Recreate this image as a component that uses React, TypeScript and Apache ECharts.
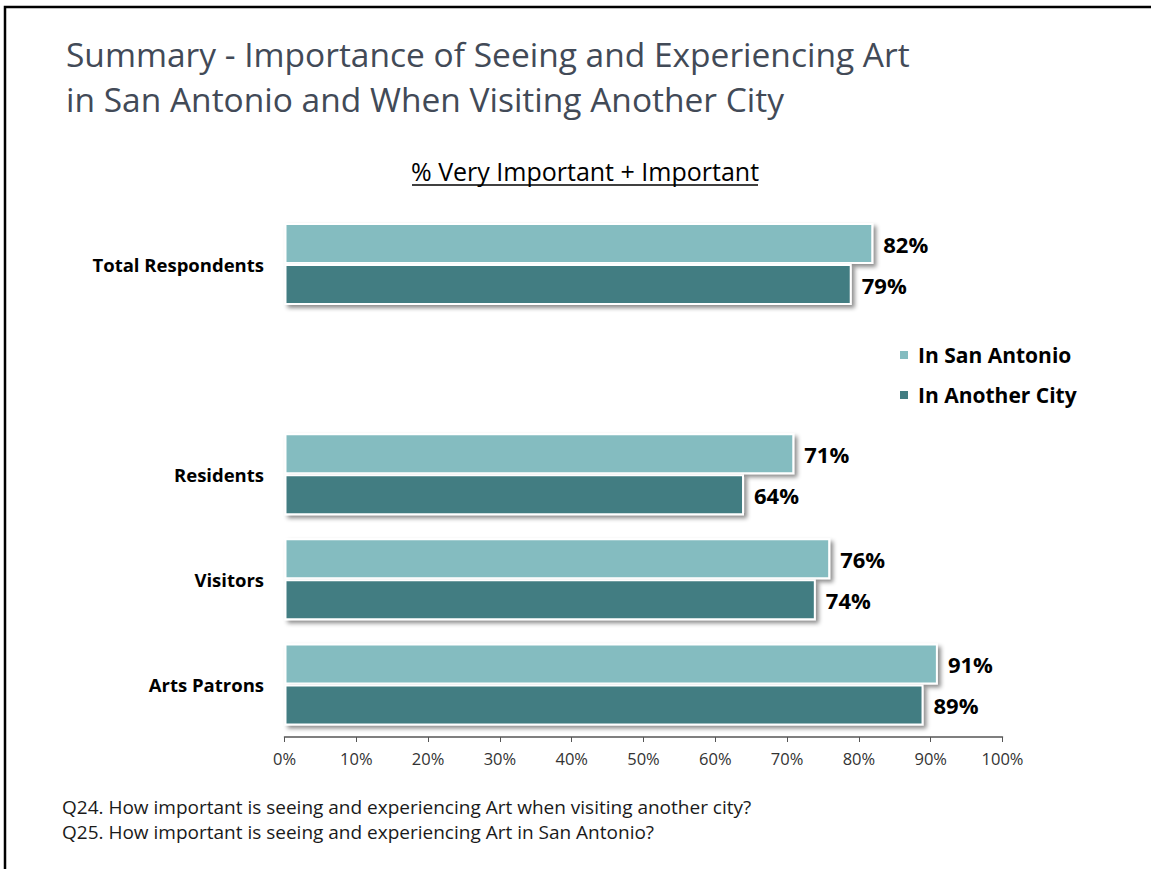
import React, { useEffect, useRef } from "react";
import * as echarts from "echarts";

const categories = ["Total Respondents", "", "Residents", "Visitors", "Arts Patrons"];
const sanAntonio = [82, null, 71, 76, 91];
const anotherCity = [79, null, 64, 74, 89];
const xTicks = [0, 10, 20, 30, 40, 50, 60, 70, 80, 90, 100];
const seriesNames = ["In San Antonio", "In Another City"];
const titleLines = [
  "Summary - Importance of Seeing and Experiencing Art",
  "in San Antonio and When Visiting Another City",
];
const subtitle = "% Very Important + Important";
const footnotes = [
  "Q24. How important is seeing and experiencing Art when visiting another city?",
  "Q25. How important is seeing and experiencing Art in San Antonio?",
];

const FONT = "'Open Sans', 'Noto Sans', sans-serif";
const LIGHT = "#84BCC0";
const DARK = "#427D82";

export default function App() {
  const ref = useRef<HTMLDivElement>(null);
  useEffect(() => {
    if (!ref.current) return;
    const chart = echarts.init(ref.current, null, { renderer: "svg" });
    const barStyle = (color: string) => ({
      color,
      borderColor: "#ffffff",
      borderWidth: 2,
      shadowColor: "rgba(0,0,0,0.45)",
      shadowBlur: 4,
      shadowOffsetX: 3,
      shadowOffsetY: 3,
    });
    const labelStyle = {
      show: true,
      position: "right" as const,
      distance: 10,
      formatter: (p: any) => `${p.value}%`,
      fontFamily: FONT,
      fontWeight: "bold" as const,
      fontSize: 22,
      color: "#000",
    };
    chart.setOption({
      animation: false,
      textStyle: { fontFamily: FONT },
      title: {
        text: titleLines.join("\n"),
        left: 61,
        top: 26,
        textStyle: {
          fontFamily: FONT,
          fontSize: 33.5,
          fontWeight: "normal",
          color: "#424a57",
          lineHeight: 45,
        },
      },
      legend: {
        orient: "vertical",
        left: 898,
        top: 344,
        padding: 0,
        itemWidth: 10,
        itemHeight: 10,
        itemGap: 18,
        icon: "rect",
        data: seriesNames,
        textStyle: {
          fontFamily: FONT,
          fontSize: 21,
          fontWeight: "bold",
          color: "#000",
          lineHeight: 22,
          padding: [0, 0, 0, 4],
        },
      },
      grid: { left: 284.5, right: 148.5, top: 211.5, bottom: 132, containLabel: false },
      xAxis: {
        type: "value",
        min: 0,
        max: 100,
        interval: 10,
        axisLine: { show: true, lineStyle: { color: "#555", width: 1.5 } },
        axisTick: { show: true, length: 5, lineStyle: { color: "#555" } },
        splitLine: { show: false },
        axisLabel: {
          formatter: (v: number) => (xTicks.includes(v) ? `${v}%` : ""),
          fontFamily: FONT,
          fontSize: 16.5,
          color: "#333",
          margin: 13,
        },
      },
      yAxis: {
        type: "category",
        inverse: true,
        data: categories,
        axisLine: { show: false },
        axisTick: { show: false },
        axisLabel: {
          fontFamily: FONT,
          fontWeight: "bold",
          fontSize: 18.5,
          color: "#000",
          margin: 20.5,
        },
      },
      series: [
        {
          name: seriesNames[0],
          type: "bar",
          data: sanAntonio,
          barWidth: 41,
          barGap: "0%",
          itemStyle: barStyle(LIGHT),
          label: labelStyle,
        },
        {
          name: seriesNames[1],
          type: "bar",
          data: anotherCity,
          barWidth: 41,
          barGap: "0%",
          itemStyle: barStyle(DARK),
          label: labelStyle,
        },
      ],
      graphic: [
        {
          type: "polyline",
          shape: { points: [[5, 869], [5, 7], [1151, 7]] },
          style: { stroke: "#000", lineWidth: 2.5, fill: "none" },
          silent: true,
        },
        {
          type: "text",
          x: 585,
          y: 171,
          style: {
            text: subtitle,
            font: `25px ${FONT}`,
            fill: "#000",
            textAlign: "center",
            textVerticalAlign: "middle",
          },
        },
        {
          type: "line",
          shape: { x1: 412, y1: 185, x2: 758, y2: 185 },
          style: { stroke: "#000", lineWidth: 1.3 },
        },
        {
          type: "text",
          x: 62,
          y: 807,
          style: {
            text: footnotes[0],
            font: `19px ${FONT}`,
            fill: "#1a1a1a",
            textVerticalAlign: "middle",
          },
        },
        {
          type: "text",
          x: 62,
          y: 832,
          style: {
            text: footnotes[1],
            font: `19px ${FONT}`,
            fill: "#1a1a1a",
            textVerticalAlign: "middle",
          },
        },
      ],
    });
    return () => chart.dispose();
  }, []);
  return (
    <div
      ref={ref}
      style={{ position: "fixed", left: 0, top: 0, width: 1151, height: 869, background: "#fff" }}
    />
  );
}
